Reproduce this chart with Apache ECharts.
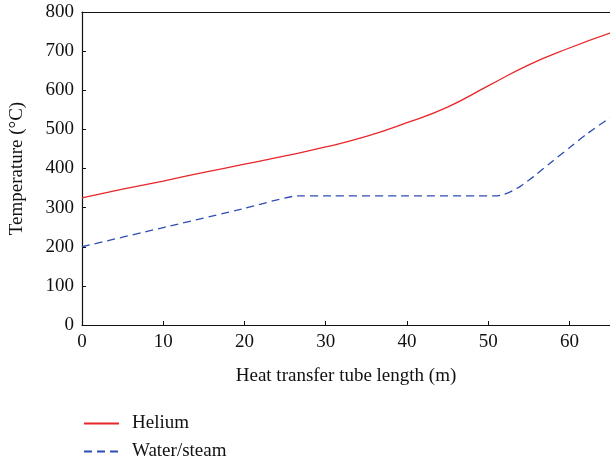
<!DOCTYPE html>
<html>
<head>
<meta charset="utf-8">
<script src="https://cdn.jsdelivr.net/npm/echarts@6/dist/echarts.min.js"></script>
<style>html,body{margin:0;padding:0;background:#fff}#c{width:610px;height:462px}</style>
</head>
<body>
<div id="c"></div>
<script>
var heliumX = [0, 5, 10, 15, 20, 25, 30, 35, 40, 45, 50, 55, 60, 65];
var heliumY = [325, 347, 368, 390, 411, 432, 455, 482, 517, 557, 611, 665, 708, 746];
var waterX = [0, 10, 20, 26.5, 30, 40, 51, 52, 53, 54, 55, 56, 58, 60, 62, 65];
var waterY = [200, 249, 298, 330, 330, 330, 330, 334, 343, 355, 370, 386, 420, 453, 486, 530];
var seriesNames = ['Helium', 'Water/steam'];
var xTicks = [0, 10, 20, 30, 40, 50, 60];
var yTicks = [0, 100, 200, 300, 400, 500, 600, 700, 800];

function pairs(xs, ys) { return xs.map(function (x, i) { return [x, ys[i]]; }); }

var font = 'Liberation Serif';
var legendText = { fontFamily: font, fontSize: 19, color: '#111', padding: [0, 0, 0, 8] };
function legendFor(name, top) {
  return {
    orient: 'vertical', left: 83, top: top, padding: 0, itemWidth: 35, itemHeight: 14,
    itemStyle: { opacity: 0 },
    textStyle: legendText, data: [name]
  };
}
var chart = echarts.init(document.getElementById('c'));
chart.setOption({
  animation: false,
  textStyle: { fontFamily: font },
  grid: { left: 82, top: 12, right: 0, bottom: 137, containLabel: false, outerBoundsMode: 'none' },
  legend: [legendFor(seriesNames[0], 414), legendFor(seriesNames[1], 442)],
  xAxis: [{
    type: 'value', min: 0, max: 65, interval: 10,
    name: 'Heat transfer tube length (m)', nameLocation: 'middle', nameGap: 42,
    nameTextStyle: { fontFamily: font, fontSize: 19, color: '#111' },
    axisLine: { lineStyle: { color: '#111', width: 1.2 } },
    axisTick: { inside: true, length: 4, lineStyle: { color: '#111' } },
    axisLabel: { fontFamily: font, fontSize: 19, color: '#111', margin: 8, showMaxLabel: false,
      formatter: function (v) { return xTicks.indexOf(v) >= 0 ? String(v) : ''; } },
    splitLine: { show: false }
  }, {
    type: 'value', position: 'top', min: 0, max: 65,
    axisLine: { show: true, lineStyle: { color: '#111', width: 1.2 } },
    axisTick: { show: false }, axisLabel: { show: false }, splitLine: { show: false }
  }],
  yAxis: {
    type: 'value', min: 0, max: 800, interval: 100,
    name: 'Temperature (°C)', nameLocation: 'middle', nameGap: 55,
    nameTextStyle: { fontFamily: font, fontSize: 19, color: '#111' },
    axisLine: { show: true, lineStyle: { color: '#111', width: 1.2 } },
    axisTick: { show: true, inside: true, length: 4, lineStyle: { color: '#111' } },
    axisLabel: { fontFamily: font, fontSize: 19, color: '#111', margin: 8,
      formatter: function (v) { return yTicks.indexOf(v) >= 0 ? String(v) : ''; } },
    splitLine: { show: false }
  },
  series: [{
    name: seriesNames[0], type: 'line', symbol: 'none', smooth: 0.5,
    data: pairs(heliumX, heliumY),
    lineStyle: { color: '#e8262a', width: 1.3 }, itemStyle: { color: '#e8262a' }
  }, {
    name: seriesNames[1], type: 'line', symbol: 'none', smooth: 0.15,
    data: pairs(waterX, waterY),
    lineStyle: { color: '#2f4db3', width: 1.3, type: [8, 5] }, itemStyle: { color: '#2f4db3' }
  }]
});
</script>
</body>
</html>
